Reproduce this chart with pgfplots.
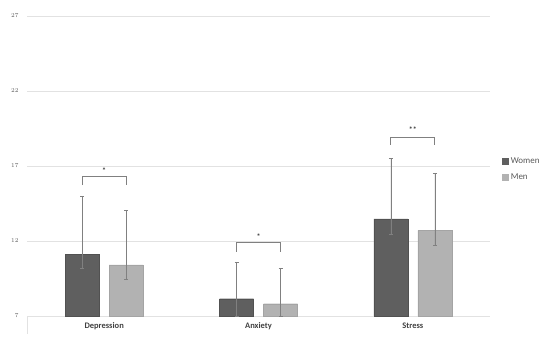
\documentclass[border=0pt]{standalone}
\usepackage{pgfplots}
\usepackage{pgfplotstable}
\pgfplotsset{compat=1.18}
\usepackage{fontspec}
\setmainfont{Carlito}
\definecolor{women}{HTML}{5F5F5F}
\definecolor{menc}{HTML}{B2B2B2}
\definecolor{gridc}{HTML}{E2E2E2}
\definecolor{errc}{HTML}{808080}
\definecolor{labc}{HTML}{595959}
\definecolor{catc}{HTML}{404040}

\pgfplotstableread{
x y ep em
0 11.11 3.84 0.90
1 8.15 2.43 1.15
2 13.47 4.06 1.00
}\womentab
\pgfplotstableread{
x y ep em
0 10.40 3.62 0.95
1 7.82 2.36 0.82
2 12.71 3.80 1.02
}\mentab

\begin{document}
\begin{tikzpicture}
\useasboundingbox (0,0) rectangle (550bp,349bp);
\begin{axis}[
  at={(27bp,33bp)}, anchor=south west,
  scale only axis, width=463bp, height=300bp,
  clip=false,
  ymin=7, ymax=27, ytick={7,12,17,22,27},
  xmin=-0.5, xmax=2.5, xtick={0,1,2},
  xticklabels={Depression,Anxiety,Stress},
  ymajorgrids, grid style={gridc, line width=0.7bp},
  axis line style={draw=none},
  major tick length=0pt,
  yticklabel style={font=\fontsize{6.5}{8}\selectfont, text=labc, xshift=-5bp},
  xticklabel style={font=\fontsize{8.5}{10}\selectfont\bfseries, text=catc, yshift=-3bp},
  ybar, bar width=34bp,
  legend style={at={(rel axis cs:1.02,0.49)}, anchor=west, draw=none, fill=none,
    font=\fontsize{9}{11}\selectfont, text=labc, row sep=5bp},
  legend cell align=left,
  error bars/error bar style={errc, line width=0.6bp},
  error bars/error mark options={errc, mark size=2bp, line width=0.6bp, rotate=90},
]
\addplot[fill=women, draw=women!85!black, bar shift=-22bp,
  legend image code/.code={\fill[women] (0bp,-3bp) rectangle (6bp,3bp);},
  error bars/.cd, y dir=both, y explicit]
  table[x=x, y=y, y error plus=ep, y error minus=em]{\womentab};
\addlegendentry{Women}
\addplot[fill=menc, draw=menc!92!black, bar shift=22bp,
  legend image code/.code={\fill[menc] (0bp,-3bp) rectangle (6bp,3bp);},
  error bars/.cd, y dir=both, y explicit]
  table[x=x, y=y, y error plus=ep, y error minus=em]{\mentab};
\addlegendentry{Men}

% significance brackets
\draw[errc, line width=0.8bp] ([xshift=-22bp]axis cs:0,15.73) -- ([xshift=-22bp]axis cs:0,16.29) -- ([xshift=22bp]axis cs:0,16.29) -- ([xshift=22bp]axis cs:0,15.73);
\draw[errc, line width=0.8bp] ([xshift=-22bp]axis cs:1,11.29) -- ([xshift=-22bp]axis cs:1,11.91) -- ([xshift=22bp]axis cs:1,11.91) -- ([xshift=22bp]axis cs:1,11.29);
\draw[errc, line width=0.8bp] ([xshift=-22bp]axis cs:2,18.40) -- ([xshift=-22bp]axis cs:2,18.91) -- ([xshift=22bp]axis cs:2,18.91) -- ([xshift=22bp]axis cs:2,18.40);
\node[anchor=base, font=\fontsize{8}{9}\selectfont\bfseries, text=catc, inner sep=0pt] at (axis cs:0,16.51) {*};
\node[anchor=base, font=\fontsize{8}{9}\selectfont\bfseries, text=catc, inner sep=0pt] at (axis cs:1,12.11) {*};
\node[anchor=base, font=\fontsize{8}{9}\selectfont\bfseries, text=catc, inner sep=0pt] at (axis cs:2,19.20) {**};
% left category tick
\draw[gridc, line width=0.7bp] (rel axis cs:0,0) -- ++(0bp,-18bp);
\end{axis}
\end{tikzpicture}
\end{document}
